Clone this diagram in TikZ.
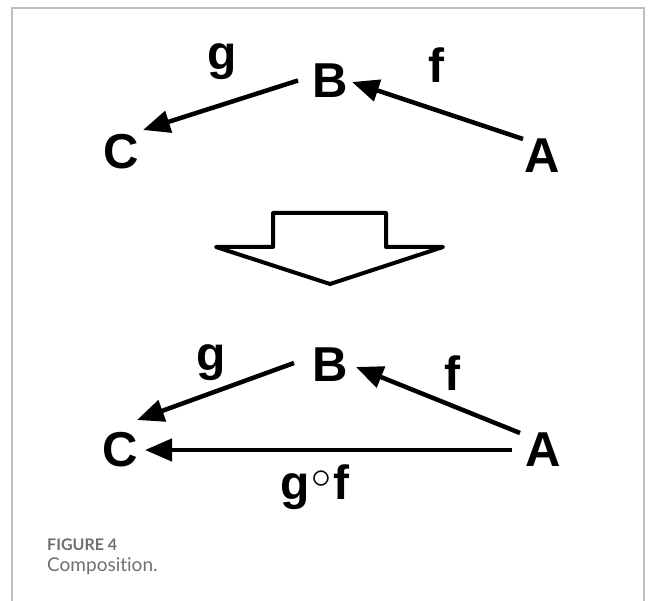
\documentclass[tikz,border=0pt]{standalone}
\usepackage{fontspec}
\usepackage{graphicx}
\setmainfont{Liberation Sans}
\newfontfamily\capfont[Ligatures=NoCommon]{Lato}
\usetikzlibrary{arrows.meta,calc}
\definecolor{framegray}{RGB}{190,190,190}
\definecolor{capgray}{RGB}{112,112,112}
\tikzset{
  obj/.style={inner sep=0pt, font=\fontsize{49}{49}\selectfont\bfseries},
  lbl/.style={inner sep=0pt, font=\fontsize{48}{48}\selectfont\bfseries},
  arr/.style={line width=4.5pt, -{Triangle[length=27pt,width=22pt]}},
  hollow/.style={line width=4pt, line join=round, fill=white},
  frameline/.style={draw=framegray, line width=1.5pt},
  capA/.style={inner sep=0pt, anchor=base west, text=capgray, font=\capfont\bfseries\fontsize{16}{16}\selectfont},
  capB/.style={inner sep=0pt, anchor=base west, text=capgray, font=\capfont\fontsize{19}{19}\selectfont},
}
\begin{document}
\begin{tikzpicture}[x=1pt,y=-1pt]
\useasboundingbox (0,0) rectangle (656,601);
% frame
\draw[frameline] (12,601) -- (12,8) -- (644,8) -- (644,601);
% top diagram
\node[obj] (C1) at (121,152) {C};
\node[obj] (B1) at (330,80.5) {B};
\node[obj] (A1) at (542,156) {A};
\node[lbl] (g1) at (222,62) {g};
\node[lbl] (f1) at (436,65) {f};
\draw[arr] ($(B1)+(-32,0)$) -- ($(C1)+(22,-22)$);
\draw[arr] ($(A1)+(-19,-17)$) -- ($(B1)+(22,1.5)$);
% hollow arrow
\draw[hollow] (273,213) -- (386,213) -- (386,247) -- (443,247) -- (330,284) -- (216,247) -- (273,247) -- cycle;
% bottom diagram
\node[obj] (C2) at (120,450) {C};
\node[obj] (B2) at (330,365) {B};
\node[obj] (A2) at (543,450) {A};
\node[lbl] (g2) at (211,363) {g};
\node[lbl] (f2) at (452,373) {f};
\node[lbl] (gf) at (315,487) {g\kern1.5pt\raisebox{11pt}{\fontsize{24}{24}\selectfont\scalebox{1.6}{$\circ$}}\kern1.5pt f};
\draw[arr] ($(B2)+(-36,-2)$) -- ($(C2)+(17,-30)$);
\draw[arr] ($(A2)+(-23,-17)$) -- ($(B2)+(26,2)$);
\draw[arr] ($(A2)+(-31,0)$) -- ($(C2)+(25,0)$);
% caption
\node[capA] (fig) at (47,550) {FIGURE 4};
\node[capB] (cap) at (47,571) {Composition.};
\end{tikzpicture}
\end{document}
